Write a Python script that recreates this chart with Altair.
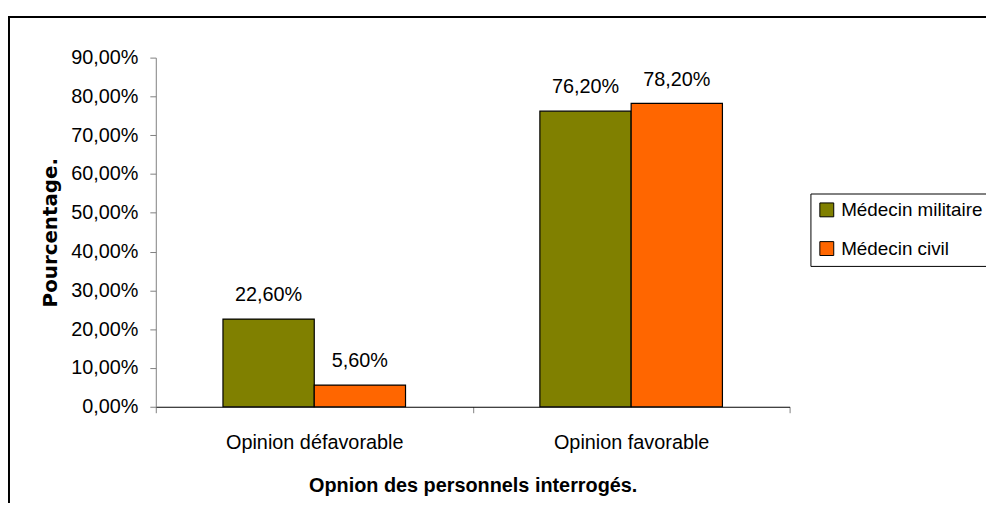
import altair as alt
import pandas as pd

categories = ["Opinion défavorable", "Opinion favorable"]
series = ["Médecin militaire", "Médecin civil"]
militaire = [0.226, 0.762]
civil = [0.056, 0.782]
colors = ["#808000", "#FF6600"]
y_ticks = [0.0, 0.1, 0.2, 0.3, 0.4, 0.5, 0.6, 0.7, 0.8, 0.9]

rows = []
for i, c in enumerate(categories):
    rows.append({"opinion": c, "medecin": series[0], "value": militaire[i]})
    rows.append({"opinion": c, "medecin": series[1], "value": civil[i]})
df = pd.DataFrame(rows)

FONT = "Liberation Sans"
FS = 20

x_enc = alt.X(
    "opinion:N",
    sort=categories,
    scale=alt.Scale(paddingInner=0, paddingOuter=0),
    axis=alt.Axis(
        title="Opnion des personnels interrogés.",
        labelAngle=0,
        tickBand="extent",
        tickSize=6,
        tickColor="#808080",
        domainColor="black",
        labelPadding=20,
        titlePadding=23,
        labelFontSize=FS,
        titleFontSize=FS,
        titleFontWeight="bold",
        labelColor="black",
        titleColor="black",
        labelFont=FONT,
        titleFont=FONT,
    ),
)
xoff = alt.XOffset("medecin:N", sort=series, scale=alt.Scale(paddingInner=0, paddingOuter=0.736))
y_enc = alt.Y(
    "value:Q",
    scale=alt.Scale(domain=[0, 0.9], nice=False),
    axis=alt.Axis(
        title="Pourcentage.",
        values=y_ticks,
        tickCount=10,
        labelExpr="replace(format(datum.value, '.2%'), '.', ',')",
        labelOverlap=False,
        grid=False,
        tickSize=6,
        tickColor="#808080",
        domainColor="#808080",
        labelPadding=12,
        titlePadding=10,
        labelFontSize=FS,
        titleFontSize=FS,
        titleFontWeight="bold",
        labelColor="black",
        titleColor="black",
        labelFont=FONT,
        titleFont="DejaVu Sans",
    ),
)

base = alt.Chart(df)

bars = base.mark_bar(stroke="black", strokeWidth=1.2).encode(
    x=x_enc,
    xOffset=xoff,
    y=y_enc,
    color=alt.Color(
        "medecin:N",
        sort=series,
        scale=alt.Scale(domain=series, range=colors),
        legend=alt.Legend(
            title=None,
            orient="none",
            legendX=660,
            legendY=137,
            padding=7,
            strokeColor="black",
            fillColor="white",
            symbolType="square",
            symbolSize=196,
            symbolStrokeColor="black",
            symbolStrokeWidth=1,
            labelFontSize=19,
            labelFont=FONT,
            labelColor="black",
            labelOffset=5,
            rowPadding=19,
        ),
    ),
)

labels = base.transform_calculate(
    label="replace(format(datum.value, '.2%'), '.', ',')"
).mark_text(baseline="alphabetic", dy=-18, fontSize=FS, font=FONT, color="black").encode(
    x=x_enc,
    xOffset=xoff,
    y=y_enc,
    text="label:N",
)

frame = alt.Chart(alt.Data(values=[{}])).mark_rect(
    fill=None, fillOpacity=0, stroke="black", strokeWidth=2
).encode(
    x=alt.value(-148),
    x2=alt.value(900),
    y=alt.value(-41),
    y2=alt.value(600),
)

chart = alt.layer(frame, bars, labels).properties(
    width=639,
    height=352,
    autosize=alt.AutoSizeParams(type="none"),
    padding={"left": 149, "top": 48, "right": 198, "bottom": 95},
).configure_view(strokeWidth=0, stroke=None)

chart.save("out.html", embed_options={"renderer": "svg", "actions": False})
